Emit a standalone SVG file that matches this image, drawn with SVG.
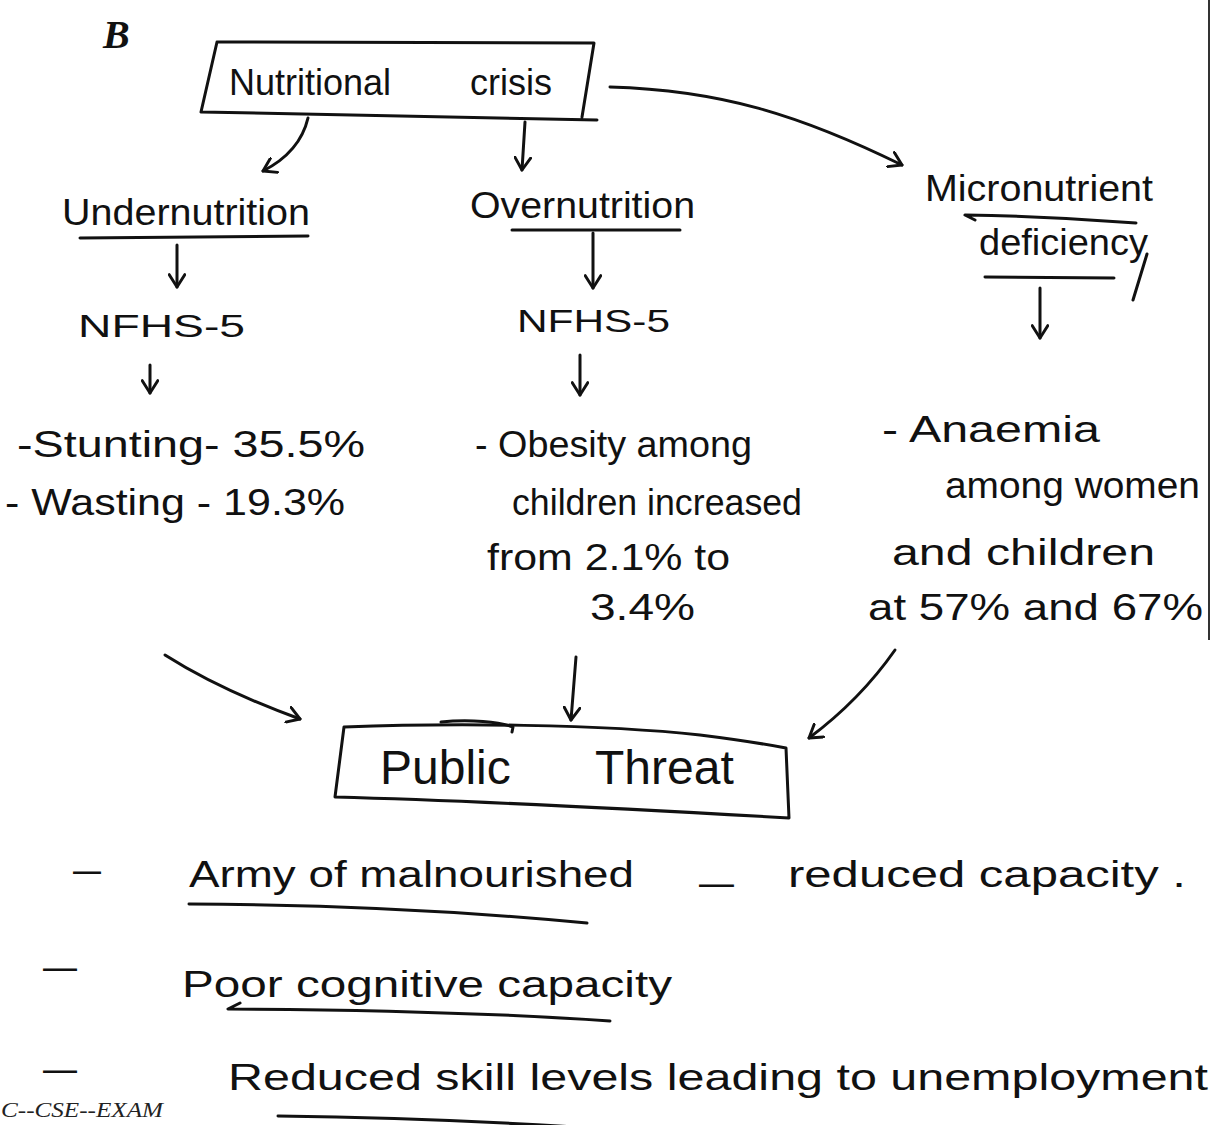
<svg xmlns="http://www.w3.org/2000/svg" width="1212" height="1125" viewBox="0 0 1212 1125">
<defs>
<style>
.t{font-family:"Liberation Sans","DejaVu Sans",sans-serif;fill:#111;}
.s36{font-size:36px;}
.s32{font-size:32px;}
.s48{font-size:48px;}
.ln{fill:none;stroke:#111;stroke-width:3;stroke-linecap:round;stroke-linejoin:round;}
.foot{font-family:"Liberation Serif",serif;font-style:italic;font-size:22px;fill:#222;}
</style>
<marker id="ah" viewBox="0 0 14 16" refX="12" refY="8" markerWidth="16" markerHeight="18" markerUnits="userSpaceOnUse" orient="auto">
<path d="M1,1 L12,8 L1,15" fill="none" stroke="#111" stroke-width="2.6" stroke-linecap="round" stroke-linejoin="round"/>
</marker>
</defs>
<rect width="1212" height="1125" fill="#fff"/>
<path d="M1209,0 L1209,640" stroke="#333" stroke-width="2"/>
<text class="t" x="103" y="48" style="font-family:'Liberation Serif',serif;font-style:italic;font-weight:bold;font-size:40px">B</text>

<g id="nutritional-crisis">
<path class="ln" d="M217,42 L594,43 L582,117 M201,112 C330,115 460,117 597,120 M201,112 L217,42"/>
<text class="t s36" y="95"><tspan x="229">Nutritional</tspan><tspan x="470">crisis</tspan></text>
</g>

<g id="undernutrition">
<text class="t s36" x="62" y="225" textLength="248" lengthAdjust="spacingAndGlyphs">Undernutrition</text>
<path class="ln" d="M80,238 L308,236"/>
</g>

<g id="overnutrition">
<text class="t s36" x="470" y="218" textLength="225" lengthAdjust="spacingAndGlyphs">Overnutrition</text>
<path class="ln" d="M512,230 L680,230"/>
</g>

<g id="micronutrient-deficiency">
<text class="t s36" x="925" y="201" textLength="228" lengthAdjust="spacingAndGlyphs">Micronutrient</text>
<path class="ln" d="M975,220 L965,215 Q1050,216 1136,223"/>
<text class="t s36" x="979" y="255" textLength="169" lengthAdjust="spacingAndGlyphs">deficiency</text>
<path class="ln" d="M985,277 L1114,278 M1147,254 L1133,300"/>
</g>

<g id="nfhs-under">
<text class="t s32" x="78" y="337" textLength="167" lengthAdjust="spacingAndGlyphs">NFHS-5</text>
</g>

<g id="nfhs-over">
<text class="t s32" x="517" y="332" textLength="153" lengthAdjust="spacingAndGlyphs">NFHS-5</text>
</g>

<g id="under-stats">
<text class="t s36" x="17" y="457" textLength="348" lengthAdjust="spacingAndGlyphs">-Stunting- 35.5%</text>
<text class="t s36" x="5" y="515" textLength="340" lengthAdjust="spacingAndGlyphs">- Wasting - 19.3%</text>
</g>

<g id="over-stats">
<text class="t s36" x="475" y="457" textLength="277" lengthAdjust="spacingAndGlyphs">- Obesity among</text>
<text class="t s36" x="512" y="515" textLength="290" lengthAdjust="spacingAndGlyphs">children increased</text>
<text class="t s36" x="487" y="570" textLength="243" lengthAdjust="spacingAndGlyphs">from 2.1% to</text>
<text class="t s36" x="590" y="620" textLength="105" lengthAdjust="spacingAndGlyphs">3.4%</text>
</g>

<g id="micro-stats">
<text class="t s36" x="882" y="442" textLength="218" lengthAdjust="spacingAndGlyphs">-  Anaemia</text>
<text class="t s36" x="945" y="498" textLength="255" lengthAdjust="spacingAndGlyphs">among women</text>
<text class="t s36" x="892" y="565" textLength="263" lengthAdjust="spacingAndGlyphs">and children</text>
<text class="t s36" x="868" y="620" textLength="335" lengthAdjust="spacingAndGlyphs">at 57% and 67%</text>
</g>

<g id="public-threat">
<path class="ln" d="M344,727 C450,723 600,724 700,735 C740,740 770,745 786,748 L789,818 C650,810 450,800 335,797 Z"/>
<path class="ln" d="M441,722 C470,719 500,722 513,727 L512,732"/>
<text class="t s48" y="784"><tspan x="380">Public</tspan><tspan x="595">Threat</tspan></text>
</g>

<g id="consequences">
<text class="t s36" x="73" y="882" textLength="28" lengthAdjust="spacingAndGlyphs">—</text>
<text class="t s36" x="189" y="887" textLength="445" lengthAdjust="spacingAndGlyphs">Army of malnourished</text>
<text class="t s36" x="699" y="895" textLength="35" lengthAdjust="spacingAndGlyphs">–</text>
<text class="t s36" x="788" y="887" textLength="398" lengthAdjust="spacingAndGlyphs">reduced capacity .</text>
<path class="ln" d="M189,904 Q400,905 587,923"/>
<text class="t s36" x="43" y="979" textLength="34" lengthAdjust="spacingAndGlyphs">—</text>
<text class="t s36" x="182" y="997" textLength="490" lengthAdjust="spacingAndGlyphs">Poor cognitive capacity</text>
<path class="ln" d="M240,1003 L228,1009 Q450,1010 610,1021"/>
<text class="t s36" x="43" y="1081" textLength="34" lengthAdjust="spacingAndGlyphs">—</text>
<text class="t s36" x="228" y="1090" textLength="980" lengthAdjust="spacingAndGlyphs">Reduced skill levels leading to unemployment</text>
<path class="ln" d="M278,1116 Q450,1118 620,1130"/>
</g>

<text class="foot" x="1" y="1117" textLength="162" lengthAdjust="spacingAndGlyphs">C--CSE--EXAM</text>

<g id="connectors">
<path class="ln" marker-end="url(#ah)" d="M308,118 Q300,152 263,171"/>
<path class="ln" marker-end="url(#ah)" d="M525,122 L522,170"/>
<path class="ln" marker-end="url(#ah)" d="M610,87 C720,90 800,115 902,165"/>
<path class="ln" marker-end="url(#ah)" d="M177,245 L177,287"/>
<path class="ln" marker-end="url(#ah)" d="M150,365 L150,393"/>
<path class="ln" marker-end="url(#ah)" d="M593,233 L593,288"/>
<path class="ln" marker-end="url(#ah)" d="M580,355 L580,395"/>
<path class="ln" marker-end="url(#ah)" d="M1040,288 L1040,338"/>
<path class="ln" marker-end="url(#ah)" d="M165,655 Q220,690 300,719"/>
<path class="ln" marker-end="url(#ah)" d="M576,657 L571,720"/>
<path class="ln" marker-end="url(#ah)" d="M895,650 Q860,700 809,738"/>
</g>
</svg>
